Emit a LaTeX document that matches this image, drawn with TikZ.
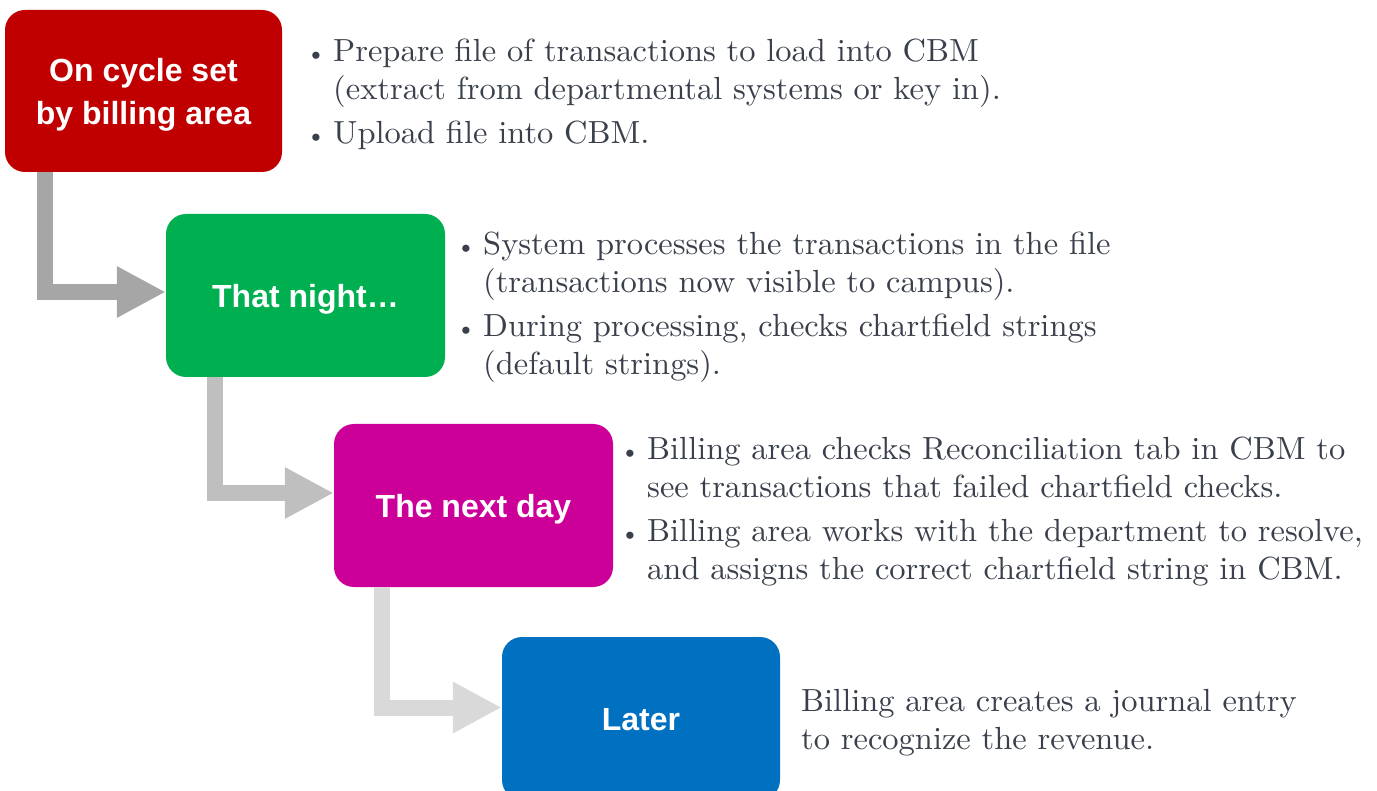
\documentclass[tikz,border=0pt]{standalone}
\usepackage{fontspec}
\newfontfamily\boxfont{Liberation Sans}
\newfontfamily\bodyfont{lmroman10-regular}[Extension=.otf, FakeStretch=1.015]
\usetikzlibrary{arrows.meta}

\definecolor{stageRed}{HTML}{C00000}
\definecolor{stageGreen}{HTML}{00B050}
\definecolor{stageMagenta}{HTML}{CC0099}
\definecolor{stageBlue}{HTML}{0070C0}
\definecolor{flowDark}{HTML}{A6A6A6}
\definecolor{flowMid}{HTML}{BFBFBF}
\definecolor{flowLight}{HTML}{D9D9D9}
\definecolor{bodyText}{HTML}{3A404B}

% bullet with a fixed hanging indent
\newcommand{\dotmark}{\makebox[27pt][l]{\fontsize{25}{25}\selectfont\textbullet}}
\newcommand{\hang}{\hspace*{27pt}}

\tikzset{
  stage/.style={rounded corners=20pt, minimum width=278pt, minimum height=163pt,
    inner sep=0pt, text=white, align=center, text height=24pt, text depth=0pt,
    font=\boxfont\bfseries\fontsize{32}{43}\selectfont},
  body/.style={inner sep=0pt, anchor=base west, text=bodyText,
    font=\bodyfont\fontsize{32}{38}\selectfont},
  flow/.style={line width=16pt, line join=miter,
    -{Triangle[length=49pt,width=48pt]}},
}

\begin{document}
\begin{tikzpicture}[x=1pt, y=-1pt]
\useasboundingbox (0,0) rectangle (1377,791);
\clip (0,0) rectangle (1377,791);

% stage boxes
\node[stage, fill=stageRed, minimum width=277pt, minimum height=162pt,
      text height=34pt, text depth=52pt] (b1) at (143.5,91)
  {\begin{tabular}[t]{@{}c@{}}On cycle set\\by billing area\end{tabular}};
\node[stage, fill=stageGreen, minimum width=279pt] (b2) at (305.5,295.5) {That night…};
\node[stage, fill=stageMagenta, minimum width=279pt] (b3) at (473.5,505.5) {The next day};
\node[stage, fill=stageBlue] (b4) at (641,718.5) {Later};

% elbow connectors
\draw[flow, flowDark] ([xshift=40pt]b1.south west) |- ([yshift=3.5pt]b2.west);
\draw[flow, flowMid] ([xshift=49pt]b2.south west) |- ([yshift=12.5pt]b3.west);
\draw[flow, flowLight] ([xshift=48.5pt]b3.south west) |- ([yshift=11pt]b4.west);

% descriptions
\node[body] (t1) at (306,62) {\begin{tabular}[t]{@{}l@{}}
\dotmark Prepare file of transactions to load into CBM\\
\hang (extract from departmental systems or key in).\\[6pt]
\dotmark Upload file into CBM.
\end{tabular}};

\node[body] (t2) at (456,255) {\begin{tabular}[t]{@{}l@{}}
\dotmark System processes the transactions in the file\\
\hang (transactions now visible to campus).\\[6pt]
\dotmark During processing, checks chartfield strings\\
\hang (default strings).
\end{tabular}};

\node[body] (t3) at (620,460) {\begin{tabular}[t]{@{}l@{}}
\dotmark Billing area checks Reconciliation tab in CBM to\\
\hang see transactions that failed chartfield checks.\\[6pt]
\dotmark Billing area works with the department to resolve,\\
\hang and assigns the correct chartfield string in CBM.
\end{tabular}};

\node[body] (t4) at (801,711) {\begin{tabular}[t]{@{}l@{}}
Billing area creates a journal entry\\
to recognize the revenue.
\end{tabular}};
\end{tikzpicture}
\end{document}
